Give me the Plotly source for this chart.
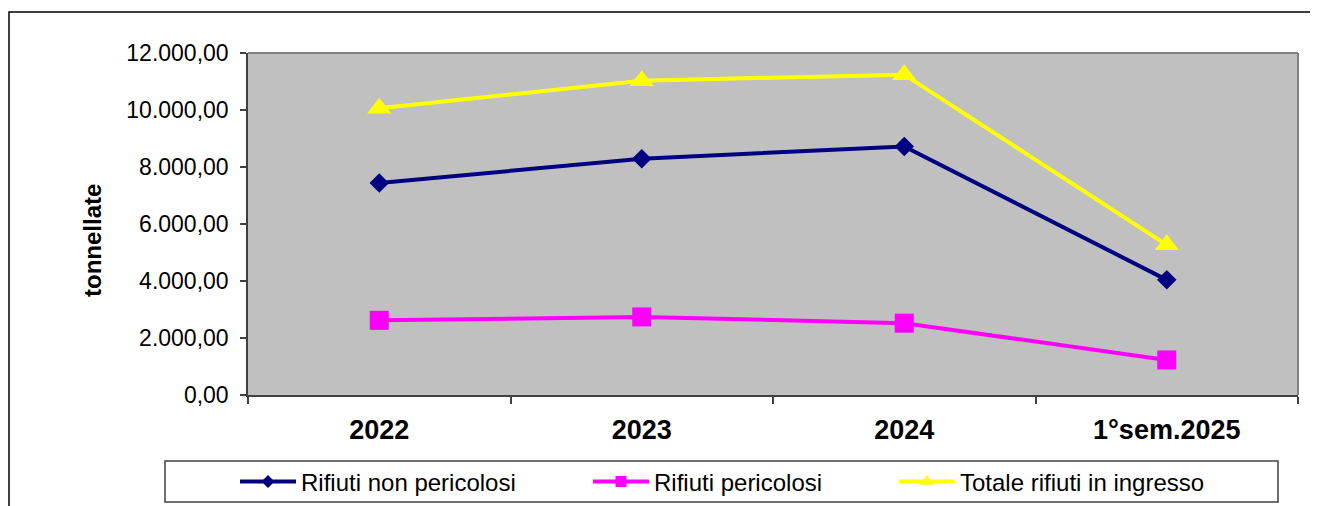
import plotly.graph_objects as go

categories = ["2022", "2023", "2024", "1°sem.2025"]
non_pericolosi = [7440, 8290, 8720, 4040]
pericolosi = [2620, 2740, 2520, 1230]
totale = [10060, 11030, 11240, 5270]

# the page body has an 8px margin, so the figure is drawn 8px in from the window corner
OFF = 8
W, H = 1318 - OFF, 506 - OFF
L, R, T, B = 248 - OFF, 20, 53 - OFF, 506 - 395
pw, ph = W - L - R, H - T - B


def px(x):
    return (x - OFF - L) / pw


def py(y):
    return (H - B - (y - OFF)) / ph


series = [
    ("Rifiuti non pericolosi", non_pericolosi, "#000080", "diamond", 15, 10, "legend", 243),
    ("Rifiuti pericolosi", pericolosi, "#FF00FF", "square", 19, 11, "legend2", 596),
    ("Totale rifiuti in ingresso", totale, "#FFFF00", "triangle-up", 21, 13, "legend3", 902),
]

fig = go.Figure()
for name, vals, col, sym, ms, lms, lg, lx in series:
    fig.add_trace(go.Scatter(
        x=categories, y=vals, mode="lines+markers", name=name,
        line=dict(color=col, width=4), marker=dict(symbol=sym, size=ms, color=col),
        showlegend=False, cliponaxis=False,
    ))
    # legend-only entry with smaller marker, like the original
    fig.add_trace(go.Scatter(
        x=[None], y=[None], mode="lines+markers", name=name, legend=lg,
        line=dict(color=col, width=4), marker=dict(symbol=sym, size=lms, color=col),
    ))

legend_style = dict(
    orientation="h", yanchor="middle", y=py(482), xanchor="left",
    bgcolor="rgba(0,0,0,0)", borderwidth=0, itemwidth=56,
    font=dict(family="Liberation Sans, Arial", size=24, color="#000000"),
)
layout_legends = {}
for name, vals, col, sym, ms, lms, lg, lx in series:
    layout_legends[lg] = dict(legend_style, x=px(lx - 8))

fig.update_layout(
    width=W, height=H,
    margin=dict(l=L, r=R, t=T, b=B, autoexpand=False),
    paper_bgcolor="#FFFFFF", plot_bgcolor="#C0C0C0",
    font=dict(family="Liberation Sans, Arial", color="#000000"),
    **layout_legends,
    xaxis=dict(
        type="category", range=[-0.5, 3.5], tickson="boundaries",
        ticks="outside", ticklen=7, tickcolor="#404040", tickwidth=1.5,
        showline=True, linecolor="#404040", linewidth=1.5,
        showgrid=False, zeroline=False, ticklabelstandoff=10,
        tickfont=dict(family="Liberation Sans, Arial", size=27, color="#000000", weight="bold"),
    ),
    yaxis=dict(
        range=[0, 12000], tickvals=[0, 2000, 4000, 6000, 8000, 10000, 12000],
        ticktext=["0,00", "2.000,00", "4.000,00", "6.000,00", "8.000,00", "10.000,00", "12.000,00"],
        ticks="outside", ticklen=6, tickcolor="#404040", tickwidth=1.5,
        showline=True, linecolor="#404040", linewidth=1.5,
        showgrid=False, zeroline=False, ticklabelstandoff=7,
        tickfont=dict(family="Liberation Sans, Arial", size=23, color="#000000"),
    ),
    annotations=[
        dict(text="tonnellate", textangle=-90, xref="paper", yref="paper",
             x=px(92), y=py(241), xanchor="center", yanchor="middle", showarrow=False,
             font=dict(family="Liberation Sans, Arial", size=24, color="#000000", weight="bold")),
    ],
    shapes=[
        # plot area top/right border
        dict(type="line", xref="paper", yref="paper", x0=0, x1=1, y0=1, y1=1,
             line=dict(color="#808080", width=2)),
        dict(type="line", xref="paper", yref="paper", x0=1, x1=1, y0=0, y1=1,
             line=dict(color="#808080", width=2)),
        # legend box
        dict(type="rect", xref="paper", yref="paper", x0=px(165), x1=px(1278), y0=py(502), y1=py(461),
             line=dict(color="#404040", width=1.5), fillcolor="rgba(0,0,0,0)", layer="below"),
        # outer chart frame
        dict(type="rect", xref="paper", yref="paper", x0=px(9), x1=px(1340), y0=py(540), y1=py(12),
             line=dict(color="#000000", width=1.5), fillcolor="rgba(0,0,0,0)"),
    ],
)

fig.write_html("out.html")
